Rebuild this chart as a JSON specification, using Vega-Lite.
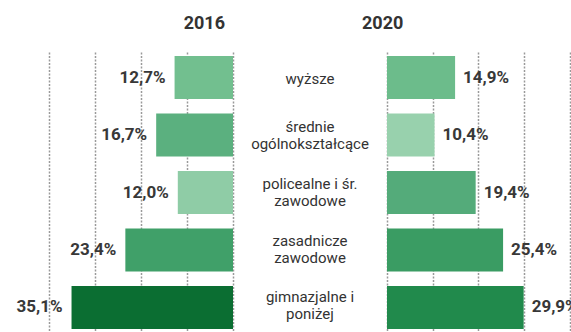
{
  "$schema": "https://vega.github.io/schema/vega-lite/v6.json",
  "padding": {"top": 15, "left": 0, "right": 0, "bottom": 0},
  "background": "white",
  "bounds": "flush",
  "config": {
    "view": {"stroke": null},
    "concat": {"spacing": 0},
    "locale": {"number": {"decimal": ",", "thousands": " ", "grouping": [3], "currency": ["", " zł"]}},
    "title": {"font": "Roboto", "fontSize": 18, "fontWeight": "bold", "color": "#333333", "offset": 18},
    "axis": {"grid": true, "labels": false, "ticks": false, "domain": false, "title": null, "gridColor": "#9a9a9a", "gridDash": [2, 1.5], "gridWidth": 1.5}
  },
  "data": {
    "values": [
      {"cat": "wyższe", "year": "2016", "share": 0.127},
      {"cat": "średnie\nogólnokształcące", "year": "2016", "share": 0.167},
      {"cat": "policealne i śr.\nzawodowe", "year": "2016", "share": 0.120},
      {"cat": "zasadnicze\nzawodowe", "year": "2016", "share": 0.234},
      {"cat": "gimnazjalne i\nponiżej", "year": "2016", "share": 0.351},
      {"cat": "wyższe", "year": "2020", "share": 0.149},
      {"cat": "średnie\nogólnokształcące", "year": "2020", "share": 0.104},
      {"cat": "policealne i śr.\nzawodowe", "year": "2020", "share": 0.194},
      {"cat": "zasadnicze\nzawodowe", "year": "2020", "share": 0.254},
      {"cat": "gimnazjalne i\nponiżej", "year": "2020", "share": 0.299}
    ]
  },
  "hconcat": [
    {
      "width": 233,
      "height": 283,
      "title": {"text": "2016", "anchor": "end", "dx": -8},
      "transform": [{"filter": "datum.year === '2016'"}],
      "encoding": {
        "y": {"field": "cat", "type": "nominal", "sort": null, "axis": null, "scale": {"paddingInner": 0.25, "paddingOuter": 0.086}},
        "x": {"field": "share", "type": "quantitative", "scale": {"domain": [0, 0.5065], "reverse": true, "nice": false}, "axis": {"values": [0, 0.1, 0.2, 0.3, 0.4]}}
      },
      "layer": [
        {
          "mark": {"type": "bar"},
          "encoding": {
            "color": {"field": "share", "type": "quantitative", "legend": null,
              "scale": {"domain": [0.104, 0.120, 0.127, 0.149, 0.167, 0.194, 0.234, 0.254, 0.299, 0.351],
                        "range": ["#98d1ad", "#8fcca6", "#72bf8f", "#6cbc8b", "#5bb07f", "#54ab7a", "#40a069", "#3a9c63", "#218a4c", "#0b6e32"]}}
          }
        },
        {
          "mark": {"type": "text", "align": "right", "baseline": "middle", "dx": -9, "font": "Roboto", "fontSize": 17, "fontWeight": "bold", "color": "#383838"},
          "encoding": {"text": {"field": "share", "type": "quantitative", "format": ".1%"}}
        }
      ]
    },
    {
      "width": 154,
      "height": 283,
      "title": {"text": " "},
      "transform": [{"filter": "datum.year === '2016'"}],
      "encoding": {
        "y": {"field": "cat", "type": "nominal", "sort": null, "axis": null,
              "scale": {"domain": ["wyższe", "średnie\nogólnokształcące", "policealne i śr.\nzawodowe", "zasadnicze\nzawodowe", "gimnazjalne i\nponiżej"], "paddingInner": 0.25, "paddingOuter": 0.086}},
        "text": {"field": "cat", "type": "nominal"}
      },
      "layer": [
        {
          "transform": [{"filter": "indexof(datum.cat, '\\n') < 0"}],
          "mark": {"type": "text", "align": "center", "baseline": "middle", "lineBreak": "\n", "lineHeight": 17, "font": "Roboto", "fontSize": 15, "color": "#333333"}
        },
        {
          "transform": [{"filter": "indexof(datum.cat, '\\n') >= 0"}],
          "mark": {"type": "text", "align": "center", "baseline": "middle", "dy": -8.5, "lineBreak": "\n", "lineHeight": 17, "font": "Roboto", "fontSize": 15, "color": "#333333"}
        }
      ]
    },
    {
      "width": 184,
      "height": 283,
      "title": {"text": "2020", "anchor": "start", "dx": -25},
      "transform": [{"filter": "datum.year === '2020'"}],
      "encoding": {
        "y": {"field": "cat", "type": "nominal", "sort": null, "axis": null, "scale": {"paddingInner": 0.25, "paddingOuter": 0.086}},
        "x": {"field": "share", "type": "quantitative", "scale": {"domain": [0, 0.4026], "nice": false}, "axis": {"values": [0, 0.1, 0.2, 0.3, 0.4]}}
      },
      "layer": [
        {
          "mark": {"type": "bar"},
          "encoding": {
            "color": {"field": "share", "type": "quantitative", "legend": null,
              "scale": {"domain": [0.104, 0.120, 0.127, 0.149, 0.167, 0.194, 0.234, 0.254, 0.299, 0.351],
                        "range": ["#98d1ad", "#8fcca6", "#72bf8f", "#6cbc8b", "#5bb07f", "#54ab7a", "#40a069", "#3a9c63", "#218a4c", "#0b6e32"]}}
          }
        },
        {
          "mark": {"type": "text", "align": "left", "baseline": "middle", "dx": 8, "font": "Roboto", "fontSize": 17, "fontWeight": "bold", "color": "#383838"},
          "encoding": {"text": {"field": "share", "type": "quantitative", "format": ".1%"}}
        }
      ]
    }
  ]
}
